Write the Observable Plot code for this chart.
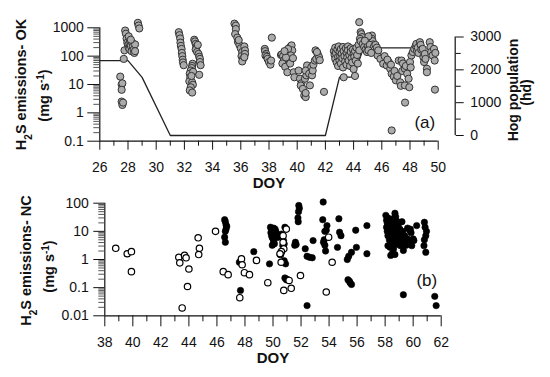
<!DOCTYPE html>
<html><head><meta charset="utf-8">
<script src="https://cdn.jsdelivr.net/npm/d3@7"></script>
<script src="https://cdn.jsdelivr.net/npm/@observablehq/plot@0.6"></script>
<style>
body{margin:0;background:#fff;}
#chart{width:550px;height:377px;font-family:"Liberation Sans",Arial,sans-serif;}
#chart svg{display:block;}
</style></head><body><div id="chart"></div>
<script>
// ---------- Panel (a): OK farm ----------
const xDomA = [26, 50];
const yDomA = [0.1, 1000];
const xMajorA = [26,28,30,32,34,36,38,40,42,44,46,48,50];
const xMinorA = [27,29,31,33,35,37,39,41,43,45,47,49];
const yMajor = [0.1,1,10,100,1000];
const hogMajor = [0,1000,2000,3000];
const hogMinor = [500,1500,2500];
// hog population (hd) through time
const hogDoy = [26, 28, 29, 31, 42, 43, 44, 44.7, 48.5];
const hogPop = [2280, 2280, 1770, 0, 0, 1780, 1780, 2670, 2670];
// H2S emissions at OK (DOY, mg/s)
const okPoints = [
[27.45,19],[27.55,10],[27.6,11],[27.55,6.5],[27.55,2.5],[27.6,1.9],[27.65,2.3],[27.7,80],[27.75,160],[27.8,800],[27.85,620],[27.9,420],[27.95,300],[28.0,250],[28.05,200],[28.1,280],[28.1,180],[28.15,350],[28.2,230],[28.25,150],[28.3,300],[28.35,220],[28.4,170],[28.45,130],[28.5,260],[28.5,150],[28.05,500],[28.2,380],[28.7,1500],[28.75,1200],[28.8,950],
[31.6,700],[31.65,550],[31.7,420],[31.72,300],[31.75,230],[31.8,180],[31.82,130],[31.85,100],[31.88,75],[31.9,60],[31.95,48],
[32.58,54],[32.55,45],[32.52,38],[32.45,31],[32.38,24],[32.42,18],[32.35,13],[32.55,12],[32.6,9.8],[32.45,8],[32.38,6.2],[32.55,5.2],[32.62,28],[32.5,20],
[32.7,380],[32.75,330],[32.8,270],[32.85,210],[32.8,170],[32.9,140],[33.0,120],[33.05,95],[33.1,80],[33.1,62],[33.15,48],[33.05,22],[32.95,250],
[35.55,1400],[35.65,1200],[35.65,900],[35.6,600],[35.75,450],[35.8,320],[35.9,250],[36.0,190],[36.1,140],[36.05,100],[36.15,80],[36.1,65],[36.25,220],[36.3,160],[36.3,120],[36.25,92],[35.85,370],
[37.7,180],[37.72,150],[37.8,120],[37.75,105],[37.85,95],[37.9,80],[38.0,62],[38.1,50],[38.15,70],[38.2,450],
[38.85,110],[38.9,115],[39.0,100],[39.05,70],[38.95,55],[39.15,42],[39.3,27],[39.4,130],[39.5,210],[39.6,240],[39.65,160],[39.55,106],[39.45,70],[39.5,55],[39.7,85],[39.75,27],[39.8,18],[39.2,90],[39.35,180],[39.1,150],
[40.1,31],[40.2,16],[40.3,11],[40.25,9.2],[40.4,7],[40.5,4.1],[40.6,3.6],[40.6,5],[40.55,16],[40.65,21],[40.7,47],[40.6,31],[40.85,24],[40.9,9.3],[41.0,41],[41.05,21],[41.1,31],[41.15,50],[41.25,70],[41.3,160],[41.35,80],[41.45,120],[41.55,92],[41.6,72],[41.4,140],
[41.9,5.5],
[42.6,150],[42.65,110],[42.7,200],[42.7,80],[42.75,130],[42.8,60],[42.85,170],[42.9,95],[42.9,45],[42.95,220],[43.0,140],[43.0,70],[43.05,100],[43.1,180],[43.1,55],[43.15,120],[43.2,85],[43.25,210],[43.25,40],[43.3,150],[43.3,18],[43.35,100],[43.4,65],[43.45,190],[43.5,130],[43.5,50],[43.55,90],[43.6,220],[43.6,160],[43.65,70],[43.7,110],[43.75,45],[43.8,190],[43.8,140],[43.85,85],[43.9,60],[43.95,170],[44.0,120],[44.0,35],[44.05,95],[44.1,20],[44.1,150],[44.15,70],[44.2,200],[44.25,110],[44.3,55],[44.35,250],[44.4,160],
[44.4,1580],[44.5,700],[44.55,600],[44.6,470],[44.45,410],[44.5,340],[44.65,270],[44.75,210],[44.85,170],[44.95,140],[45.0,230],[45.1,190],[45.2,300],[45.3,535],[45.3,410],[45.35,340],[45.4,260],[45.5,180],[45.6,140],[45.7,106],[45.05,500],[44.8,350],[45.15,250],[45.45,220],[45.05,160],[45.25,130],[45.55,250],[45.65,200],[45.75,160],
[45.9,80],[46.1,54],[46.35,47],[46.6,36],[46.7,24],[46.85,19],[46.5,62],[46.2,100],[46.4,75],[46.65,50],[46.9,30],[47.0,14],[47.1,20],[47.3,12],[47.35,9],[47.2,70],[47.4,70],[47.5,55],[47.45,30],[47.63,36],[47.7,45],[47.8,24],[47.9,16],[47.64,9.3],[47.95,8],[48.0,62],[48.1,106],[48.2,140],[48.05,40],[46.7,0.24],[47.65,2.3],
[48.3,180],[48.4,230],[48.45,270],[48.5,150],[48.55,200],[48.6,130],[48.7,310],[48.75,250],[48.8,170],[48.9,180],[48.95,92],[49.0,62],[49.05,120],[49.2,36],[49.2,27],[49.1,80],[49.4,310],[49.45,210],[49.5,140],[49.6,106],[49.7,180],[49.75,70],[49.8,130],[49.77,6.6]
];

// ---------- Panel (b): NC farm ----------
const xDomB = [38, 62];
const yDomB = [0.01, 100];
const xMajorB = [38,40,42,44,46,48,50,52,54,56,58,60,62];
const xMinorB = [39,41,43,45,47,49,51,53,55,57,59,61];
const yMajorB = [0.01,0.1,1,10,100];
const ncOpen = [
[38.78,2.5],[39.6,1.6],[39.9,1.9],[39.9,0.37],
[43.28,1.2],[43.35,0.76],[43.69,1.4],[43.8,1.15],[44.0,0.46],[43.9,0.11],[43.52,0.019],
[44.66,5.9],[44.75,2.5],[44.7,1.5],[45.9,10],
[46.45,0.37],[46.8,0.29],[47.75,1.05],[47.8,0.65],[47.96,0.34],[48.32,0.29],[47.63,0.044],[48.82,0.93],[49.63,0.15],
[50.95,12],[50.72,7],[50.72,4.1],[50.77,2.4],[50.6,1.9],[50.53,1.5],[50.58,0.8],[50.5,1.6],
[50.77,0.08],[51.3,0.095],[51.15,0.18],[51.96,0.27],[53.97,6.2],[54.22,0.8],[53.8,0.07]
];
const ncFilled = [
[46.55,26],[46.6,22],[46.65,17],[46.7,15],[46.6,10],[46.55,6.2],[46.6,4.1],[46.65,12],
[47.68,0.08],[47.6,0.8],[48.63,1.9],[49.75,0.7],
[49.82,14],[49.88,12],[49.95,10],[50.0,11],[49.85,9],[49.9,7],[49.95,6],[50.0,5.4],[50.05,4.1],[50.1,3.6],[49.95,3.2],[50.15,12],[50.2,10],[50.25,8],[50.3,6],[50.1,8],[50.05,13],
[50.6,8],[50.65,6],[50.75,4.7],[50.7,3.1],[50.8,3.6],[50.85,14],[50.8,0.9],[50.9,0.7],[50.85,0.22],[50.95,0.19],[51.0,0.2],
[51.84,83],[51.88,66],[51.82,50],[51.78,30],[51.8,22],[51.6,4.1],[51.65,3.4],[51.55,3.2],
[52.3,2.4],[52.43,1.3],[52.6,1.2],[52.8,1.15],[52.86,4.7],[52.43,0.023],
[53.58,110],[53.55,26],[53.85,16],[53.8,11],[53.7,10],[53.6,4.1],[53.7,3.2],[53.75,2.0],[53.65,5],
[54.7,28],[54.75,9.3],[54.85,7],[54.6,2.7],[55.3,1.0],[55.4,1.3],[55.6,1.8],[55.9,11],[55.95,2.7],[56.7,16],[56.7,1.6],[55.35,0.19],[55.45,0.17],[55.6,0.13],[55.5,0.15],
[58.05,37],[58.1,25],[58.1,14],[58.15,20],[58.15,10],[58.2,30],[58.2,7],[58.2,3.1],[58.25,17],[58.25,12],[58.3,8],[58.3,5],[58.35,22],[58.35,2.7],[58.4,14],[58.4,1.4],[58.45,9],[58.45,6],[58.5,18],[58.5,11],[58.5,1.6],[58.55,28],[58.55,4],[58.6,15],[58.6,2.4],[58.65,8],[58.7,44],[58.7,12],[58.7,1.5],[58.75,33],[58.75,6],[58.8,24],[58.8,18],[58.85,10],[58.85,3.5],[58.9,14],[58.9,7],[58.95,5.4],[59.0,20],[59.0,9],[59.05,12],[59.1,6],[59.1,3.1],[59.15,4.5],[59.2,22],[59.2,8],[59.25,10],[59.3,4.1],[59.3,2.1],[59.4,7],[59.45,5],[59.5,3.2],[59.6,13],[59.6,5.4],[59.7,4.1],[59.75,11],[59.8,12],[59.85,9],[59.9,3.1],[60.0,5.4],[60.05,4.7],
[60.25,16],[60.8,21],[60.85,14],[60.9,7],[60.8,5],[60.77,3.1],[60.9,1.8],[60.95,10],
[59.3,0.056],[61.54,0.049],[61.64,0.023]
];

// minor ticks of log axes (2..9 per decade)
function logMinor(lo, hi) {
  const out = [];
  for (let e = Math.round(Math.log10(lo)); e < Math.round(Math.log10(hi)); e++)
    for (let m = 2; m <= 9; m++) out.push(m * Math.pow(10, e));
  return out;
}

// secondary (hog) axis mapped onto the log scale of panel (a)
const L0 = -0.799, L1 = 2.675;
const hogToY = h => Math.pow(10, L0 + h / 3000 * (L1 - L0));

const FONT = "Liberation Sans, Arial, Helvetica, sans-serif";
const INK = "#111";
const RAX = 17; // right axis offset from frame

const hogLine = hogDoy.map((d, i) => ({x: d, y: hogToY(hogPop[i])}));

const plotA = Plot.plot({
  width: 550, height: 190,
  marginLeft: 99.3, marginRight: 112.3, marginTop: 27.3, marginBottom: 49.3,
  style: {fontFamily: FONT, fontSize: "14px", color: INK, background: "#fff", overflow: "visible"},
  x: {domain: xDomA, axis: null},
  y: {type: "log", domain: yDomA, axis: null},
  marks: [
    Plot.ruleX([xDomA[0]], {stroke: INK, strokeWidth: 1.2}),
    Plot.ruleY([yDomA[0]], {stroke: INK, strokeWidth: 1.2}),
    Plot.axisY({ticks: logMinor(0.1, 1000), tickSize: 6, tickFormat: () => "", label: null, stroke: "#555"}),
    Plot.axisY({ticks: yMajor, tickSize: 12, tickPadding: 4, tickFormat: d => String(d), label: null, fontSize: 14, stroke: INK}),
    Plot.axisX({ticks: xMinorA, tickSize: 5, tickFormat: () => "", label: null, stroke: INK}),
    Plot.axisX({ticks: xMajorA, tickSize: 9, tickPadding: 12, label: null, fontSize: 14, stroke: INK}),
    // right axis: hog population
    Plot.ruleX([xDomA[1]], {y1: hogToY(0), y2: hogToY(3000), dx: RAX, stroke: INK, strokeWidth: 1.2}),
    Plot.axisY({ticks: hogMinor.map(hogToY), anchor: "right", dx: RAX, tickSize: 5, tickFormat: () => "", label: null, stroke: INK}),
    Plot.axisY({ticks: hogMajor.map(hogToY), anchor: "right", dx: RAX, tickSize: 8, tickFormat: () => "", label: null, stroke: INK}),
    Plot.text(hogMajor, {x: () => xDomA[1], y: d => hogToY(d), text: d => String(d), dx: RAX + 15, textAnchor: "start", lineAnchor: "middle", fontSize: 14, fill: INK}),
    Plot.line(hogLine, {x: "x", y: "y", stroke: "#222", strokeWidth: 1.3}),
    Plot.dot(okPoints, {x: d => d[0], y: d => d[1], r: 3.6, fill: "#ababab", stroke: "#333", strokeWidth: 1}),
    Plot.text(["DOY"], {frameAnchor: "bottom", dy: 41.5, lineAnchor: "middle", textAnchor: "middle", fontWeight: "bold", fontSize: 15, fill: INK}),
    Plot.text(["H2S emissions- OK"], {frameAnchor: "left", dx: -78, dy: 0, rotate: -90, textAnchor: "middle", lineAnchor: "middle", fontWeight: "bold", fontSize: 14.5, fill: INK}),
    Plot.text(["(mg s-1)"], {frameAnchor: "left", dx: -55, dy: 11, rotate: -90, textAnchor: "middle", lineAnchor: "middle", fontWeight: "bold", fontSize: 14.5, fill: INK}),
    Plot.text(["Hog population"], {frameAnchor: "right", dx: 75.5, dy: 5.5, rotate: -90, textAnchor: "middle", lineAnchor: "middle", fontWeight: "bold", fontSize: 14, fill: INK}),
    Plot.text(["(hd)"], {frameAnchor: "right", dx: 88, dy: 8, rotate: -90, textAnchor: "middle", lineAnchor: "middle", fontWeight: "bold", fontSize: 14, fill: INK}),
    Plot.text(["(a)"], {frameAnchor: "bottom-right", dx: -3, dy: -18.2, textAnchor: "end", lineAnchor: "middle", fontSize: 17, fill: INK})
  ]
});

const plotB = Plot.plot({
  width: 550, height: 187,
  marginLeft: 104.3, marginRight: 109.3, marginTop: 12.7, marginBottom: 61.7,
  style: {fontFamily: FONT, fontSize: "14px", color: INK, background: "#fff", overflow: "visible"},
  x: {domain: xDomB, axis: null},
  y: {type: "log", domain: yDomB, axis: null},
  marks: [
    Plot.ruleX([xDomB[0]], {stroke: INK, strokeWidth: 1.2}),
    Plot.ruleY([yDomB[0]], {stroke: INK, strokeWidth: 1.2}),
    Plot.axisY({ticks: logMinor(0.01, 100), tickSize: 6, tickFormat: () => "", label: null, stroke: "#555"}),
    Plot.axisY({ticks: yMajorB, tickSize: 11, tickPadding: 5, tickFormat: d => String(d), label: null, fontSize: 14, stroke: INK}),
    Plot.axisX({ticks: xMinorB, tickSize: 6, tickFormat: () => "", label: null, stroke: INK}),
    Plot.axisX({ticks: xMajorB, tickSize: 11, tickPadding: 10, label: null, fontSize: 14, stroke: INK}),
    Plot.dot(ncFilled, {x: d => d[0], y: d => d[1], r: 3.2, fill: "#000", stroke: "#000", strokeWidth: 0.6}),
    Plot.dot(ncOpen, {x: d => d[0], y: d => d[1], r: 3.2, fill: "#fff", stroke: "#000", strokeWidth: 1.2}),
    Plot.text(["DOY"], {frameAnchor: "bottom", dy: 42.7, lineAnchor: "middle", textAnchor: "middle", fontWeight: "bold", fontSize: 15, fill: INK}),
    Plot.text(["H2S emissions- NC"], {frameAnchor: "left", dx: -78, dy: 1, rotate: -90, textAnchor: "middle", lineAnchor: "middle", fontWeight: "bold", fontSize: 14.5, fill: INK}),
    Plot.text(["(mg s-1)"], {frameAnchor: "left", dx: -55, dy: 7, rotate: -90, textAnchor: "middle", lineAnchor: "middle", fontWeight: "bold", fontSize: 14.5, fill: INK}),
    Plot.text(["(b)"], {frameAnchor: "bottom-right", dx: -4, dy: -35.3, textAnchor: "end", lineAnchor: "middle", fontSize: 17, fill: INK})
  ]
});

const NS = "http://www.w3.org/2000/svg";
function richen(svg) {
  svg.querySelectorAll("text").forEach(t => {
    const s = t.textContent;
    let parts = null;
    if (s.startsWith("H2S emissions")) parts = [["H"], ["2", "sub"], ["S" + s.slice(3)]];
    else if (s === "(mg s-1)") parts = [["(mg s"], ["-1", "super"], [")"]];
    if (!parts) return;
    while (t.firstChild) t.removeChild(t.firstChild);
    parts.forEach(([txt, shift]) => {
      const sp = document.createElementNS(NS, "tspan");
      sp.textContent = txt;
      if (shift) { sp.setAttribute("baseline-shift", shift); sp.setAttribute("font-size", "10"); }
      t.appendChild(sp);
    });
  });
}
richen(plotA); richen(plotB);
const root = document.getElementById("chart");
root.appendChild(plotA);
root.appendChild(plotB);
</script></body></html>
